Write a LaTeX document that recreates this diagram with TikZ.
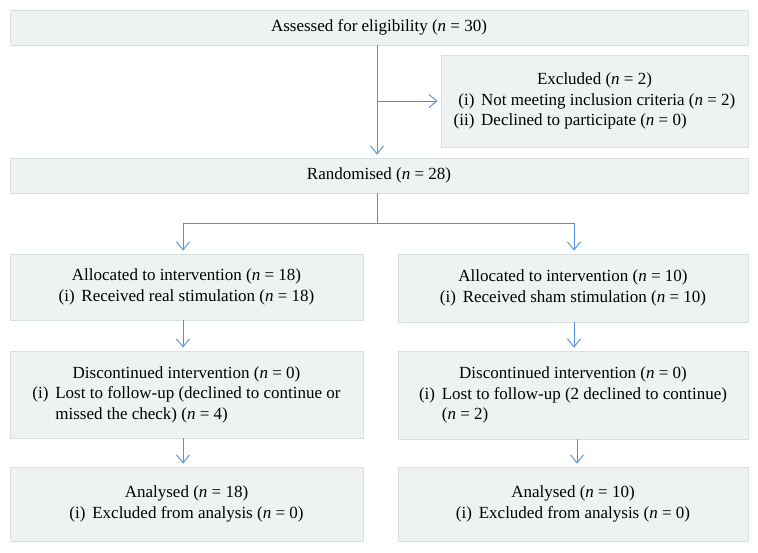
\documentclass[tikz,border=0pt]{standalone}
\usepackage{fontspec}
\setmainfont{Liberation Serif}
\usepackage{xcolor}
\usetikzlibrary{arrows.meta}
\definecolor{boxfill}{RGB}{239,242,242}
\definecolor{boxline}{RGB}{216,223,223}
\definecolor{flowblue}{RGB}{76,146,222}
\newcommand{\nn}[1]{(\textit{n} = #1)}
\newenvironment{itemblock}{\begin{tabular}{@{}r@{\hspace{0.4em}}l@{}}}{\end{tabular}}
\tikzset{
  flowbox/.style={draw=boxline,fill=boxfill,line width=0.8pt,inner sep=0pt,
    font=\fontsize{17}{20.5}\selectfont},
  flowline/.style={draw=flowblue,line width=0.9pt},
  flowarrow/.style={flowline,shorten >=3pt,-{Straight Barb[length=8pt,width=13pt]}}
}

\begin{document}
\begin{tikzpicture}[x=1pt,y=-1pt]
\useasboundingbox (0,0) rectangle (758,552);
% top row
\node[flowbox,minimum width=738,minimum height=35] (assess) at (379,27.5) {Assessed for eligibility \nn{30}};
\node[flowbox,minimum width=307,minimum height=92] (excl) at (594.5,101) {\begin{itemblock}
  \multicolumn{2}{c}{Excluded \nn{2}}\\
  (i) & Not meeting inclusion criteria \nn{2}\\
  (ii) & Declined to participate \nn{0}
\end{itemblock}};
\node[flowbox,minimum width=738,minimum height=35] (rand) at (379,175.5) {Randomised \nn{28}};
% two arms
\node[flowbox,minimum width=353,minimum height=66] (allocL) at (186.5,287) {\begin{itemblock}
  \multicolumn{2}{c}{Allocated to intervention \nn{18}}\\
  (i) & Received real stimulation \nn{18}
\end{itemblock}};
\node[flowbox,minimum width=350,minimum height=68] (allocR) at (573,288) {\begin{itemblock}
  \multicolumn{2}{c}{Allocated to intervention \nn{10}}\\
  (i) & Received sham stimulation \nn{10}
\end{itemblock}};
\node[flowbox,minimum width=353,minimum height=87] (discL) at (186.5,394.5) {\begin{itemblock}
  \multicolumn{2}{c}{Discontinued intervention \nn{0}}\\
  (i) & Lost to follow-up (declined to continue or\\
      & missed the check) \nn{4}
\end{itemblock}};
\node[flowbox,minimum width=350,minimum height=88] (discR) at (573,395) {\begin{itemblock}
  \multicolumn{2}{c}{Discontinued intervention \nn{0}}\\
  (i) & Lost to follow-up (2 declined to continue)\\
      & \nn{2}
\end{itemblock}};
\node[flowbox,minimum width=353,minimum height=74] (analL) at (186.5,504) {\begin{itemblock}
  \multicolumn{2}{c}{Analysed \nn{18}}\\
  (i) & Excluded from analysis \nn{0}
\end{itemblock}};
\node[flowbox,minimum width=350,minimum height=74] (analR) at (573,504) {\begin{itemblock}
  \multicolumn{2}{c}{Analysed \nn{10}}\\
  (i) & Excluded from analysis \nn{0}
\end{itemblock}};
% connectors
\coordinate (trunk) at (377,0);
\coordinate (split) at (377,223);
\coordinate (left) at (183,223);
\coordinate (right) at (574,223);
\coordinate (right2) at (577,0);
\draw[flowarrow] (assess.south -| trunk) -- (rand.north -| trunk);
\draw[flowarrow] (trunk |- excl.west) -- (excl.west);
\draw[flowline] (rand.south -| split) -- (split);
\draw[flowarrow] (split) -| (allocL.north -| left);
\draw[flowarrow] (split) -| (allocR.north -| right);
\draw[flowarrow] (allocL.south -| left) -- (discL.north -| left);
\draw[flowarrow] (allocR.south -| right) -- (discR.north -| right);
\draw[flowarrow] (discL.south -| left) -- (analL.north -| left);
\draw[flowarrow] (discR.south -| right2) -- (analR.north -| right2);
\end{tikzpicture}
\end{document}
